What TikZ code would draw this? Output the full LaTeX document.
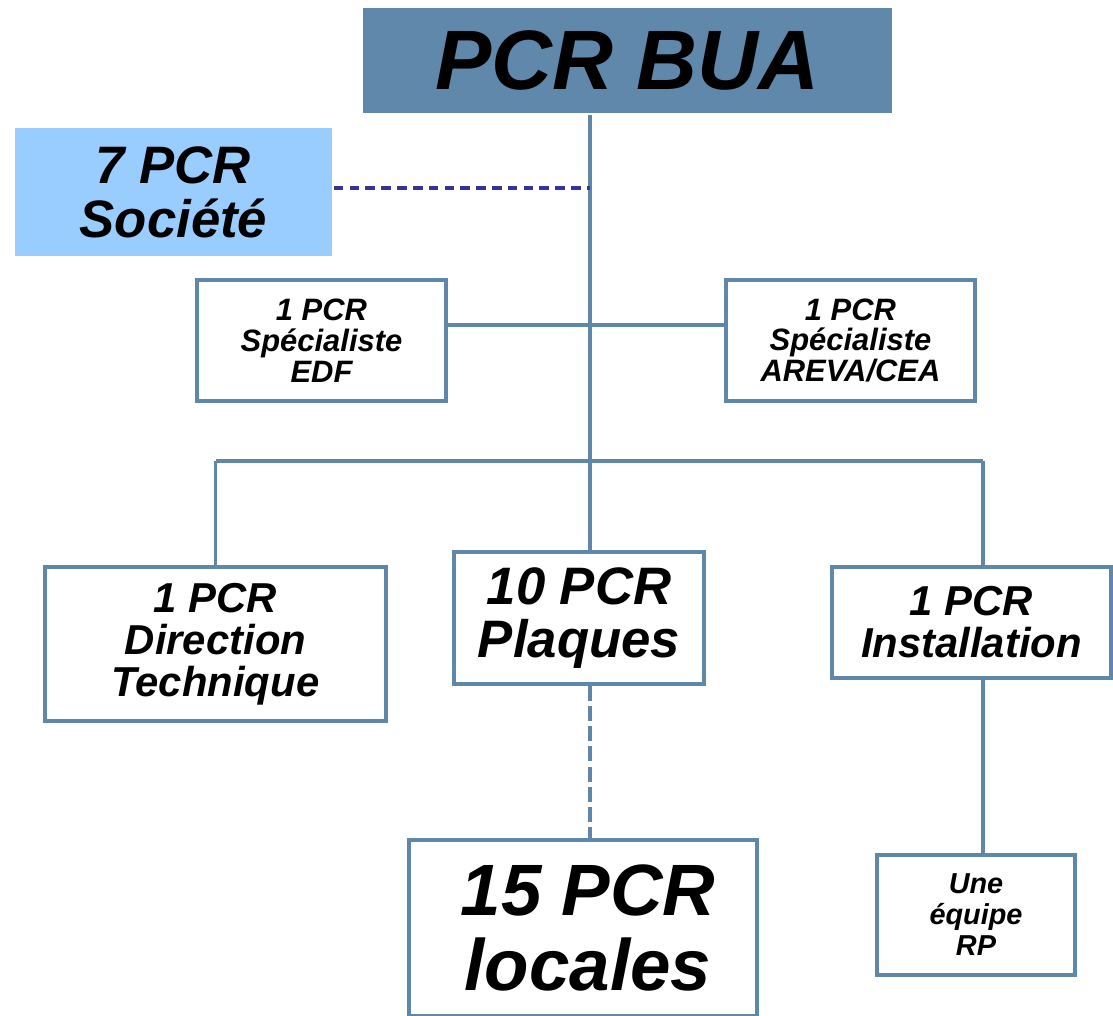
\documentclass[tikz,border=0pt]{standalone}
\usepackage{fontspec}
\setmainfont{Liberation Sans}
\usetikzlibrary{positioning}

\definecolor{lineblue}{RGB}{95,135,170}
\definecolor{headblue}{RGB}{96,136,171}
\definecolor{skyblue}{RGB}{153,204,255}
\definecolor{dashblue}{RGB}{51,51,153}

\tikzset{
  box/.style={draw=lineblue, line width=2.1pt, fill=white, inner sep=0pt, align=center, font=\bfseries\itshape},
  link/.style={draw=lineblue, line width=2.1pt},
}

\begin{document}
\begin{tikzpicture}[x=0.02cm, y=-0.02cm]

\useasboundingbox (0,0) rectangle (1113,1016);

% head of the organisation
\node[box, draw=none, fill=headblue, minimum width=10.58cm, minimum height=2.1cm,
      font=\bfseries\itshape\fontsize{48}{48}\selectfont] (bua) at (627.5,60.5) {PCR BUA};
\node[box, draw=none, fill=skyblue, minimum width=6.34cm, minimum height=2.56cm,
      font=\bfseries\itshape\fontsize{30}{30.6}\selectfont] (societe) at (173.5,192) {7 PCR\\Soci\'et\'e};

% specialists
\node[box, minimum width=4.98cm, minimum height=2.42cm,
      font=\bfseries\itshape\fontsize{17.6}{17.6}\selectfont] (edf) at (321.5,340.5) {1 PCR\\Sp\'ecialiste\\EDF};
\node[box, minimum width=4.98cm, minimum height=2.42cm,
      font=\bfseries\itshape\fontsize{17.6}{17.6}\selectfont] (areva) at (850.5,340.5) {1 PCR\\Sp\'ecialiste\\AREVA/CEA};

% second level
\node[box, minimum width=6.82cm, minimum height=3.08cm,
      font=\bfseries\itshape\fontsize{23.8}{23.8}\selectfont] (dt) at (215.5,644) {1 PCR\\Direction\\Technique};
\node[box, minimum width=5.0cm, minimum height=2.64cm,
      font=\bfseries\itshape\fontsize{30}{30}\selectfont] (plaques) at (579,618) {10 PCR\\Plaques};
\node[box, minimum width=5.58cm, minimum height=2.22cm,
      font=\bfseries\itshape\fontsize{23.8}{23.8}\selectfont] (install) at (971.5,622.5) {1 PCR\\Installation};

% third level
\node[box, minimum width=6.96cm, minimum height=3.52cm,
      font=\bfseries\itshape\fontsize{41.4}{42.5}\selectfont] (locales) at (583,928) {\hspace*{0.2cm}15 PCR\\\hspace*{0.2cm}locales};
\node[box, minimum width=3.96cm, minimum height=2.4cm,
      font=\bfseries\itshape\fontsize{16.4}{17.6}\selectfont] (equipe) at (976,915) {Une\\\'equipe\\RP};

% connectors
\coordinate (trunk) at (590,0);
\coordinate (bus) at (590,461);
\coordinate (rdrop) at (983,0);

\draw[link] (trunk |- bua.south) -- (trunk |- plaques.north);
\draw[dashblue, line width=2.1pt, dash pattern=on 5.5pt off 3.5pt] ([yshift=0.08cm]societe.east) -- ([yshift=0.08cm]societe.east -| trunk);
\draw[link] ([yshift=0.31cm]edf.east) -- ([yshift=0.31cm]areva.west);
\draw[link] (dt.north |- bus) -- (rdrop |- bus);
\draw[link] (dt.north |- bus) -- (dt.north);
\draw[link] (rdrop |- bus) -- (rdrop |- install.north);
\draw[link, dash pattern=on 8.5pt off 3pt] (trunk |- plaques.south) -- (trunk |- locales.north);
\draw[link] (rdrop |- install.south) -- (rdrop |- equipe.north);

\end{tikzpicture}
\end{document}
